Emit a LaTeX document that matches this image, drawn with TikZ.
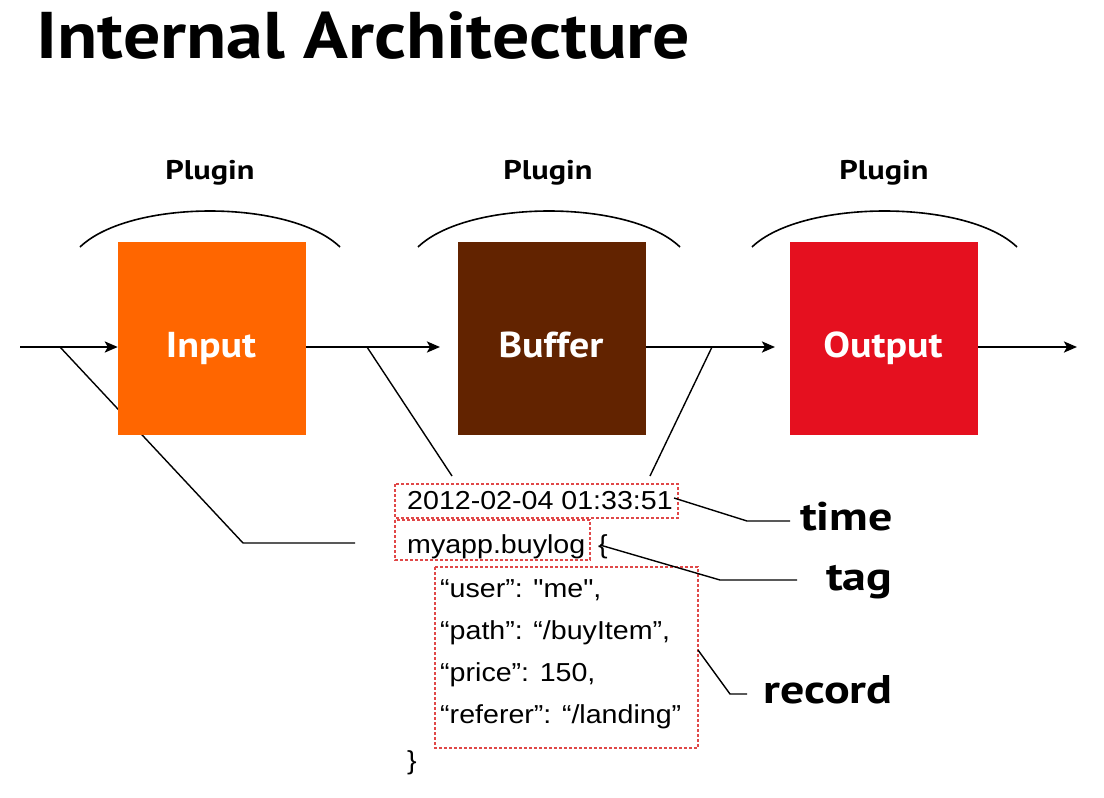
\documentclass[tikz,border=0pt]{standalone}
\usepackage{fontspec}
\setmainfont{Liberation Sans}[FakeStretch=1.1]
\newfontfamily\plainq{Liberation Sans}[FakeStretch=1.1,Ligatures=TeXOff]
\newfontfamily\humtitle{PT Sans}[FakeStretch=1.12]
\newfontfamily\humbox{PT Sans}[FakeStretch=1.11]
\newfontfamily\humlab{PT Sans}[FakeStretch=1.2]
\usetikzlibrary{arrows.meta}
\definecolor{inorange}{HTML}{FF6600}
\definecolor{bufbrown}{HTML}{622300}
\definecolor{outred}{HTML}{E5101F}
\definecolor{dashred}{HTML}{E04848}
\tikzset{
  plugbox/.style={minimum width=188pt,minimum height=193pt,inner sep=0pt},
  boxtext/.style={text=white,font=\humbox\bfseries\fontsize{36}{38}\selectfont,anchor=base,inner sep=0pt},
  flow/.style={line width=2.4pt,-{Stealth[length=13pt,width=11pt,inset=3pt]}},
  lead/.style={line width=1.4pt,black},
  arcline/.style={line width=1.6pt,black},
  plabel/.style={font=\humlab\bfseries\fontsize{27}{29}\selectfont,anchor=base,inner sep=0pt},
  fieldlabel/.style={font=\humlab\bfseries\fontsize{40}{42}\selectfont,anchor=base west,inner sep=0pt},
  codetext/.style={font=\fontsize{26}{28}\selectfont,anchor=base west,inner sep=0pt},
  dashbox/.style={draw=dashred,line width=1.8pt,dash pattern=on 3pt off 2pt}
}
\begin{document}
\begin{tikzpicture}[x=1pt,y=-1pt]
\useasboundingbox (0,0) rectangle (1104,798);
% title
\node[anchor=base west,inner sep=0pt,font=\humtitle\bfseries\fontsize{66}{68}\selectfont] (title) at (36,58) {Internal Architecture};
% plugin labels
\node[plabel] (pl1) at (210,179) {Plugin};
\node[plabel] (pl2) at (548,179) {Plugin};
\node[plabel] (pl3) at (884,179) {Plugin};
% arcs
\draw[arcline] (80,247) .. controls (130,199) and (290,199) .. (340,247);
\draw[arcline] (418,247) .. controls (468,199) and (630,199) .. (680,247);
\draw[arcline] (752,247) .. controls (802,199) and (967,199) .. (1017,247);
% leader lines behind boxes
\coordinate (tagbend) at (243,543);
\coordinate (tagend) at (355,543);
\draw[lead] (60,347) -- (tagbend) -- (tagend);
% boxes
\node[plugbox,fill=inorange] (input) at (212,338.5) {};
\node[plugbox,fill=bufbrown] (buffer) at (551.5,338.5) {};
\node[plugbox,fill=outred] (output) at (884,338.5) {};
\node[boxtext] (intext) at (211,357) {Input};
\node[boxtext] (buftext) at (551,357) {Buffer};
\node[boxtext] (outtext) at (883,357) {Output};
% flow arrows
\coordinate (start) at (20,347);
\coordinate (finish) at (1077,347);
\draw[flow] (start) -- (input.west |- start);
\draw[flow] (input.east |- start) -- (440,347) coordinate (bin);
\draw[flow] (buffer.east |- start) -- (775,347) coordinate (oin);
\draw[flow] (output.east |- start) -- (finish);
% time leaders
\coordinate (tl1) at (367,347);
\coordinate (tl2) at (712,347);
\draw[lead] (tl1) -- (452,476);
\draw[lead] (tl2) -- (650,476);
% code text
\node[codetext] (time) at (407,509) {2012-02-04 01:33:51};
\node[codetext] (tag) at (407,553) {myapp.buylog};
\node[codetext] (brace) at (598,553) {\{};
\node[codetext] (r1) at (440,597) {“user”: {\plainq "me"},};
\node[codetext] (r2) at (440,639) {“path”: “/buyItem”,};
\node[codetext] (r3) at (440,681) {“price”: 150,};
\node[codetext] (r4) at (440,723) {“referer”: “/landing”};
\node[codetext] (close) at (407,769) {\}};
% dashed boxes
\draw[dashbox] (395,484) rectangle (678,518);
\draw[dashbox] (395,520) rectangle (590,560);
\draw[dashbox] (435,567) rectangle (698,748);
% field labels
\node[fieldlabel] (ltime) at (800,530) {time};
\node[fieldlabel] (ltag) at (826,590) {tag};
\node[fieldlabel] (lrec) at (763,703) {record};
\draw[lead] (674,498) -- (747,521) -- (790,521);
\draw[lead] (600,545) -- (720,580) -- (797,580);
\draw[lead] (698,650) -- (730,694) -- (747,694);
\end{tikzpicture}
\end{document}
